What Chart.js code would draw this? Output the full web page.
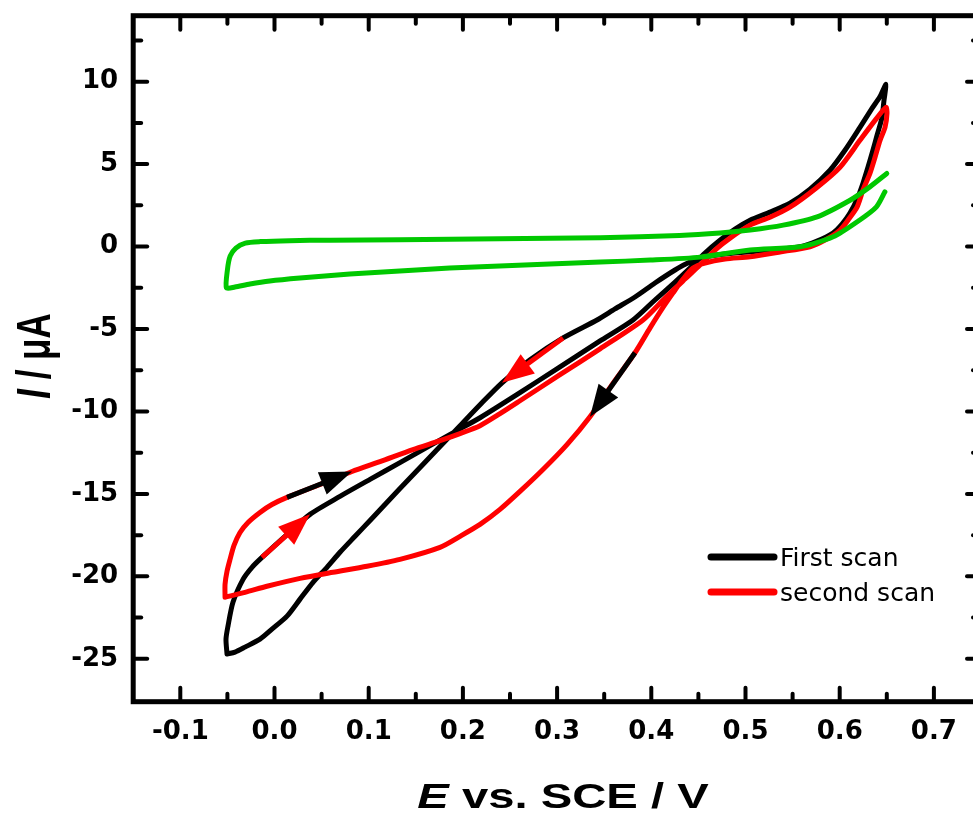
<!DOCTYPE html>
<html><head><meta charset="utf-8">
<script src="https://cdn.jsdelivr.net/npm/chart.js@4.4.1/dist/chart.umd.min.js"></script>
<style>
html,body{margin:0;padding:0;background:#fff;overflow:hidden;}
#wrap{position:absolute;left:0;top:0;width:990px;height:817px;}
</style></head><body>
<div id="wrap"><canvas id="c" width="990" height="817"></canvas></div>
<script>
// ---- axis ticks ----
const xTickValues = [-0.1, 0, 0.1, 0.2, 0.3, 0.4, 0.5, 0.6, 0.7];
const xTickLabels = ['-0.1', '0.0', '0.1', '0.2', '0.3', '0.4', '0.5', '0.6', '0.7'];
const xMinorTicks = [-0.05, 0.05, 0.15, 0.25, 0.35, 0.45, 0.55, 0.65];
const yTickValues = [-25, -20, -15, -10, -5, 0, 5, 10];
const yTickLabels = ['-25', '-20', '-15', '-10', '-5', '0', '5', '10'];
const yMinorTicks = [-22.5, -17.5, -12.5, -7.5, -2.5, 2.5, 7.5, 12.5];
const seriesLabels = ['First scan', 'second scan'];

// ---- first scan (black) : E / V , I / uA ----
const firstScanE = [-0.0504,-0.0515,-0.0494,-0.0441,-0.0334,-0.0239,-0.0133,0.0111,0.0377,0.0695,0.1014,0.1332,0.1651,0.1917,0.2182,0.2606,0.3031,0.3456,0.3806,0.4039,0.4252,0.4411,0.4570,0.4729,0.4889,0.5048,0.5260,0.5472,0.5685,0.5897,0.6056,0.6215,0.6343,0.6428,0.6491,
  0.6470,0.6449,0.6396,0.6353,0.6300,0.6247,0.6184,0.6109,0.6025,0.5929,0.5759,0.5579,0.5313,0.5048,0.4782,0.4570,0.4411,0.4252,0.4039,0.3827,0.3615,0.3424,0.3063,0.2713,0.2415,0.2182,0.1970,0.1757,0.1545,0.1332,0.1173,0.1014,0.0855,0.0695,0.0557,0.0409,0.0271,0.0133,-0.0027,-0.0154,-0.0313,-0.0419,-0.0504];
const firstScanI = [-24.71,-23.81,-23.02,-21.57,-20.18,-19.45,-18.85,-17.57,-16.24,-15.15,-14.12,-13.10,-12.07,-11.22,-10.38,-8.86,-7.29,-5.72,-4.45,-3.24,-2.15,-1.30,-0.39,0.39,1.06,1.60,2.09,2.63,3.48,4.63,5.84,7.23,8.38,9.10,9.83,
  8.86,7.83,6.74,5.84,4.81,3.84,2.87,2.03,1.36,0.82,0.33,-0.01,-0.18,-0.31,-0.45,-0.64,-0.94,-1.42,-2.21,-3.06,-3.78,-4.45,-5.54,-6.87,-8.26,-9.59,-10.86,-12.13,-13.40,-14.67,-15.64,-16.61,-17.57,-18.54,-19.45,-20.36,-21.38,-22.41,-23.20,-23.81,-24.29,-24.59,-24.71];

// ---- second scan (red) ----
const secondScanE = [-0.0525,-0.0525,-0.0504,-0.0472,-0.0430,-0.0366,-0.0281,-0.0154,-0.0027,0.0133,0.0483,0.0823,0.1120,0.1470,0.1757,0.1969,0.2182,0.2394,0.2606,0.3031,0.3456,0.3912,0.4146,0.4358,0.4517,0.4676,0.4836,0.5048,0.5260,0.5472,0.5748,0.6003,0.6215,0.6375,0.6491,
  0.6502,0.6481,0.6428,0.6375,0.6322,0.6247,0.6184,0.6088,0.6003,0.5844,0.5685,0.5366,0.5048,0.4782,0.4570,0.4443,0.4337,0.4231,0.4114,0.3987,0.3827,0.3583,0.3349,0.3105,0.2850,0.2606,0.2394,0.2182,0.1970,0.1757,0.1332,0.0982,0.0621,0.0271,-0.0080,-0.0313,-0.0525];
const secondScanI = [-21.26,-20.48,-19.69,-18.97,-18.12,-17.34,-16.73,-16.12,-15.64,-15.21,-14.43,-13.64,-13.04,-12.31,-11.77,-11.34,-10.86,-10.13,-9.35,-7.77,-6.20,-4.45,-3.12,-1.97,-1.12,-0.21,0.51,1.30,1.78,2.39,3.54,4.81,6.44,7.65,8.44,
  8.07,7.23,6.44,5.41,4.45,3.42,2.39,1.60,1.00,0.39,-0.01,-0.33,-0.62,-0.76,-1.00,-1.30,-1.97,-2.81,-3.78,-4.93,-6.44,-8.38,-10.32,-12.01,-13.52,-14.85,-15.94,-16.85,-17.57,-18.24,-18.97,-19.39,-19.75,-20.12,-20.60,-20.97,-21.26];

// ---- blank (green) ----
const blankE = [0.650,0.632,0.611,0.576,0.540,0.505,0.473,0.430,0.346,0.239,0.133,0.059,0.016,-0.015,-0.031,-0.041,-0.047,-0.050,-0.051,
  -0.042,-0.026,-0.005,0.027,0.080,0.133,0.186,0.239,0.292,0.346,0.399,0.452,0.505,0.558,0.593,0.621,0.639,0.648];
const blankI = [4.43,3.62,2.81,1.80,1.30,1.00,0.82,0.67,0.54,0.48,0.42,0.39,0.36,0.30,0.21,-0.09,-0.57,-1.42,-2.51,
  -2.45,-2.27,-2.09,-1.91,-1.66,-1.48,-1.30,-1.18,-1.06,-0.94,-0.82,-0.64,-0.21,-0.01,0.59,1.60,2.41,3.32];

// ---- scan-direction arrows (start -> tip) ----
const arrowBlackUpE = [0.0133, 0.0823];  const arrowBlackUpI = [-15.21, -13.64];
const arrowRedUpE   = [-0.0133, 0.0377]; const arrowRedUpI   = [-18.85, -16.24];
const arrowRedDownE = [0.3063, 0.2415];  const arrowRedDownI = [-5.54, -8.26];
const arrowBlackDownE = [0.3827, 0.3349]; const arrowBlackDownI = [-6.44, -10.32];

const BLACK = '#000000', RED = '#ff0000', GREEN = '#00c800';

const toPts = (E, I) => E.map((e, k) => ({x: e, y: I[k]}));
const lineDs = (label, E, I, color, order) => ({
  label, data: toPts(E, I), borderColor: color, backgroundColor: color, borderWidth: 5,
  showLine: true, pointRadius: 0, pointHoverRadius: 0, tension: 0.25,
  borderJoinStyle: 'round', borderCapStyle: 'round', fill: false, order
});
const arrowDs = (E, I, color) => ({
  label: '', data: toPts(E, I), isArrow: true, arrowColor: color,
  showLine: false, pointRadius: 0, pointHoverRadius: 0, borderWidth: 0, order: 0
});

const deco = {
  id: 'deco',
  afterDatasetsDraw(chart) {
    const ctx = chart.ctx;
    chart.data.datasets.forEach((ds, i) => {
      if (!ds.isArrow) return;
      const pts = chart.getDatasetMeta(i).data;
      const n = pts.length;
      const tip = pts[n - 1], prev = pts[n - 2];
      const dx = tip.x - prev.x, dy = tip.y - prev.y, L = Math.hypot(dx, dy);
      const ux = dx / L, uy = dy / L;
      const len = 32, hw = 12;
      const bx = tip.x - ux * len, by = tip.y - uy * len;
      ctx.save();
      ctx.strokeStyle = ds.arrowColor; ctx.fillStyle = ds.arrowColor;
      ctx.lineWidth = 5; ctx.lineCap = 'butt';
      ctx.beginPath(); ctx.moveTo(pts[0].x, pts[0].y);
      for (let k = 1; k < n - 1; k++) ctx.lineTo(pts[k].x, pts[k].y);
      ctx.lineTo(bx + ux * 3, by + uy * 3); ctx.stroke();
      ctx.beginPath(); ctx.moveTo(tip.x, tip.y);
      ctx.lineTo(bx - uy * hw, by + ux * hw);
      ctx.lineTo(bx + uy * hw, by - ux * hw);
      ctx.closePath(); ctx.fill();
      ctx.restore();
    });
  },
  afterDraw(chart) {
    const ctx = chart.ctx, xs = chart.scales.x, ys = chart.scales.y;
    const L = xs.getPixelForValue(xs.min), R = xs.getPixelForValue(xs.max);
    const T = ys.getPixelForValue(ys.max), B = ys.getPixelForValue(ys.min);
    ctx.save();
    ctx.strokeStyle = '#000'; ctx.lineWidth = 5; ctx.lineJoin = 'miter';
    ctx.strokeRect(L, T, R - L, B - T);
    ctx.lineWidth = 4; ctx.lineCap = 'round';
    const seg = (x1, y1, x2, y2) => { ctx.beginPath(); ctx.moveTo(x1, y1); ctx.lineTo(x2, y2); ctx.stroke(); };
    const MAJ = 14, MIN = 8;
    xTickValues.forEach(v => { const p = xs.getPixelForValue(v); seg(p, B, p, B - MAJ); seg(p, T, p, T + MAJ); });
    xMinorTicks.forEach(v => { const p = xs.getPixelForValue(v); seg(p, B, p, B - MIN); seg(p, T, p, T + MIN); });
    yTickValues.forEach(v => { const p = ys.getPixelForValue(v); seg(L, p, L + MAJ, p); seg(R, p, R - MAJ, p); });
    yMinorTicks.forEach(v => { const p = ys.getPixelForValue(v); seg(L, p, L + MIN, p); seg(R, p, R - MIN, p); });
    ctx.restore();

    // x axis title
    ctx.save();
    ctx.fillStyle = '#000'; ctx.textBaseline = 'alphabetic';
    const f1 = 'bold italic 35px "Liberation Sans", Arial, sans-serif';
    const f2 = 'bold 35px "Liberation Sans", Arial, sans-serif';
    ctx.font = f1; const w1 = ctx.measureText('E').width;
    ctx.font = f2; const w2 = ctx.measureText(' vs. SCE / V').width;
    ctx.translate(563, 808); ctx.scale(1.35, 1);
    const sx = -(w1 + w2) / 2;
    ctx.font = f1; ctx.fillText('E', sx, 0);
    ctx.font = f2; ctx.fillText(' vs. SCE / V', sx + w1, 0);
    ctx.restore();

    // y axis title
    ctx.save();
    ctx.fillStyle = '#000'; ctx.textBaseline = 'alphabetic';
    ctx.font = f1; const v1 = ctx.measureText('I').width;
    ctx.font = f2; const v2 = ctx.measureText(' / \u03bcA').width;
    ctx.translate(50, 356); ctx.rotate(-Math.PI / 2); ctx.scale(1, 1.4);
    const sy = -(v1 + v2) / 2;
    ctx.font = f1; ctx.fillText('I', sy, 0);
    ctx.font = f2; ctx.fillText(' / \u03bcA', sy + v1, 0);
    ctx.restore();

    // legend
    ctx.save();
    const entries = [[seriesLabels[0], BLACK, 557], [seriesLabels[1], RED, 592]];
    ctx.font = '25px "DejaVu Sans", sans-serif';
    ctx.textBaseline = 'alphabetic';
    entries.forEach(([txt, col, y]) => {
      ctx.strokeStyle = col; ctx.lineWidth = 7; ctx.lineCap = 'round';
      ctx.beginPath(); ctx.moveTo(711, y); ctx.lineTo(774, y); ctx.stroke();
      ctx.fillStyle = '#000'; ctx.fillText(txt, 780, y + 9);
    });
    ctx.restore();
  }
};

new Chart(document.getElementById('c'), {
  type: 'scatter',
  data: {
    datasets: [
      lineDs('blank', blankE, blankI, GREEN, 1),
      lineDs(seriesLabels[1], secondScanE, secondScanI, RED, 2),
      lineDs(seriesLabels[0], firstScanE, firstScanI, BLACK, 3),
      arrowDs(arrowBlackUpE, arrowBlackUpI, BLACK),
      arrowDs(arrowRedUpE, arrowRedUpI, RED),
      arrowDs(arrowRedDownE, arrowRedDownI, RED),
      arrowDs(arrowBlackDownE, arrowBlackDownI, BLACK)
    ]
  },
  options: {
    responsive: false, animation: false, events: [],
    layout: {padding: {left: 0, right: 9, top: 15.7, bottom: 0}},
    plugins: {legend: {display: false}, tooltip: {enabled: false}},
    scales: {
      x: {
        type: 'linear', position: 'bottom', min: -0.15, max: 0.75,
        grid: {display: false, drawTicks: false}, border: {display: false},
        afterBuildTicks: s => { s.ticks = xTickValues.map(v => ({value: v})); },
        afterFit: s => { s.height = 817 - 701.7; s.paddingLeft = 0; s.paddingRight = 0; },
        ticks: {
          padding: 15, color: '#000', maxRotation: 0, autoSkip: false,
          font: {family: 'DejaVu Sans', size: 26, weight: 'bold'},
          callback: v => { const i = xTickValues.findIndex(t => Math.abs(t - v) < 1e-9); return i >= 0 ? xTickLabels[i] : ''; }
        }
      },
      y: {
        type: 'linear', position: 'left', min: -27.6, max: 14,
        grid: {display: false, drawTicks: false}, border: {display: false},
        afterBuildTicks: s => { s.ticks = yTickValues.map(v => ({value: v})); },
        afterFit: s => { s.width = 133.2; s.paddingTop = 0; s.paddingBottom = 0; },
        ticks: {
          padding: 15, color: '#000', autoSkip: false,
          font: {family: 'DejaVu Sans', size: 26, weight: 'bold'},
          callback: v => { const i = yTickValues.findIndex(t => Math.abs(t - v) < 1e-9); return i >= 0 ? yTickLabels[i] : ''; }
        }
      }
    }
  },
  plugins: [deco]
});
</script>
</body></html>
